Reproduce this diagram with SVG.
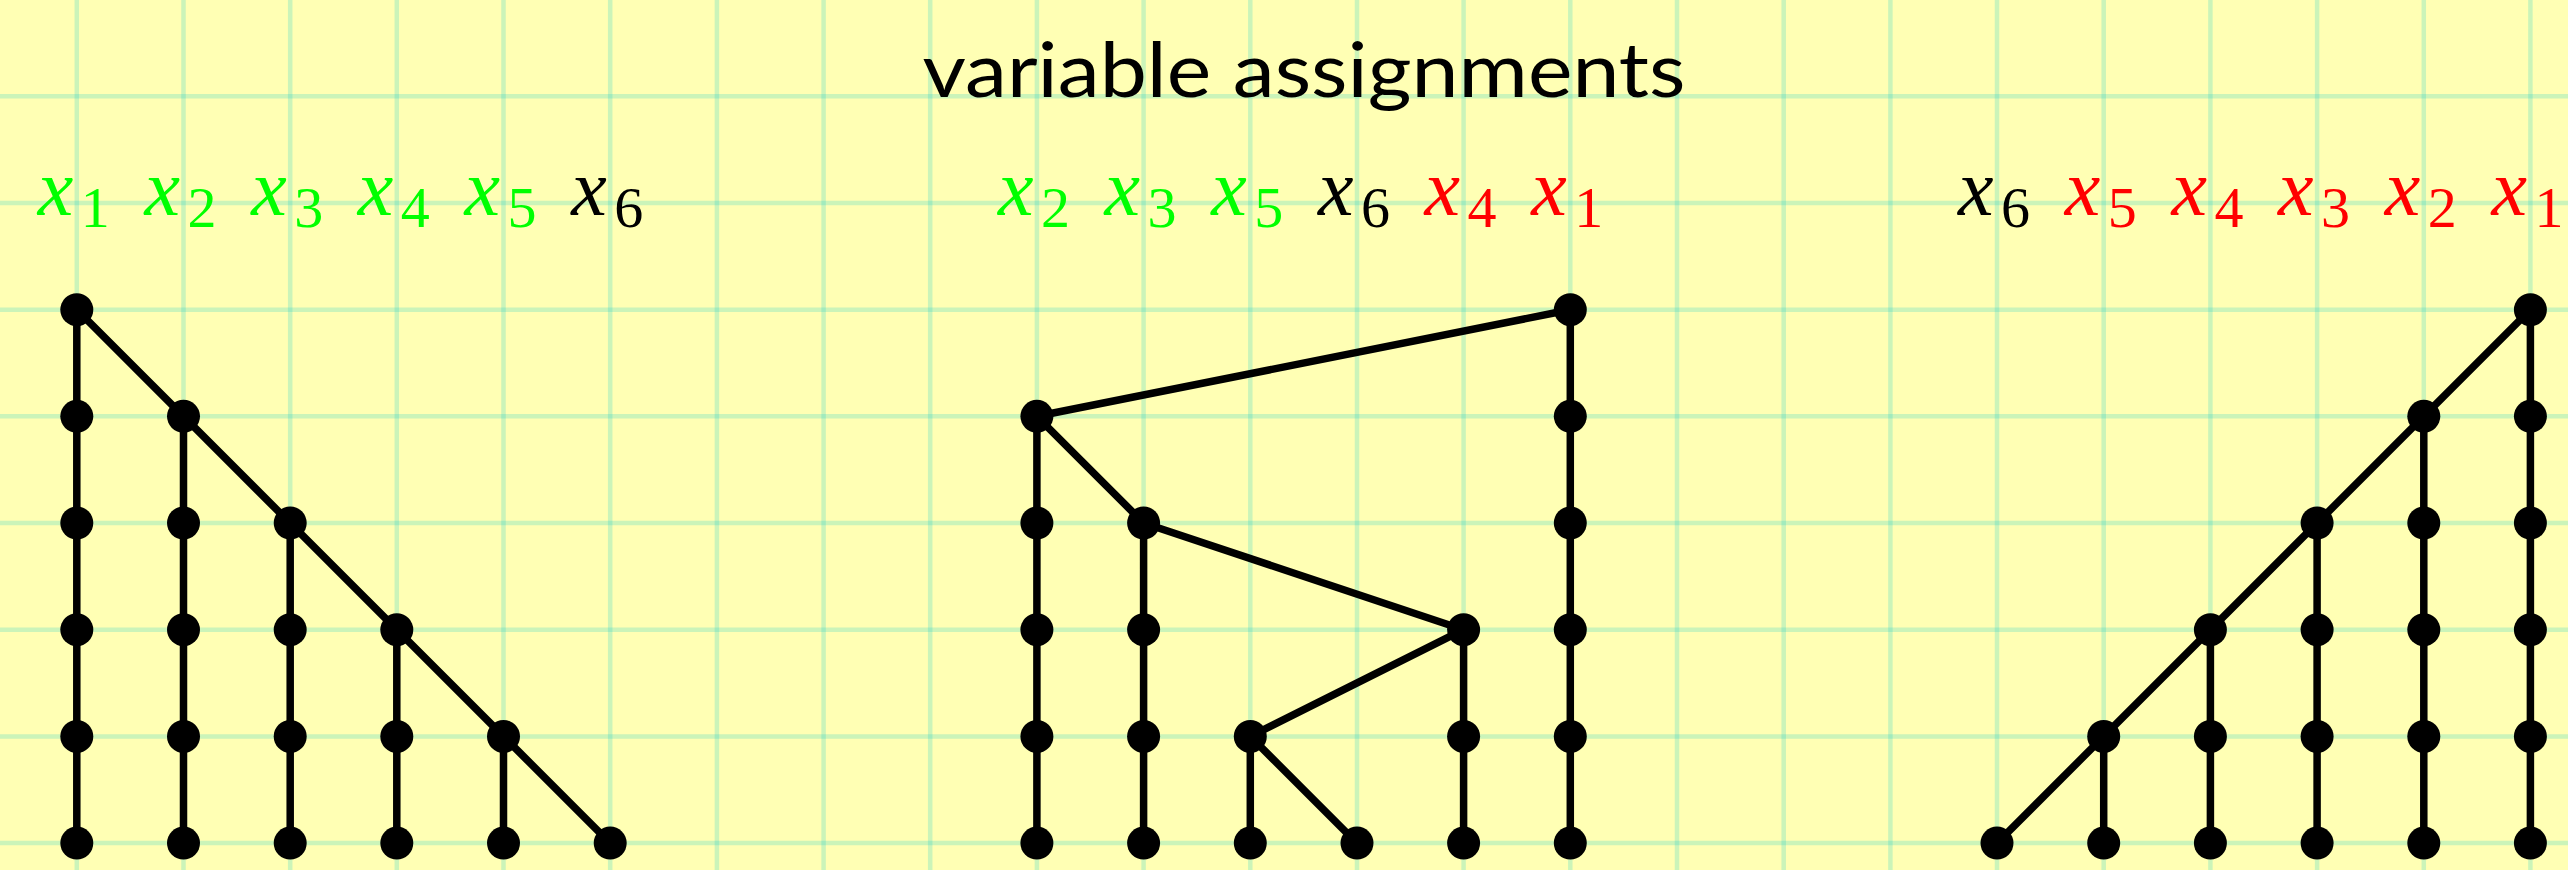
<svg xmlns="http://www.w3.org/2000/svg" width="2568" height="870" viewBox="0 0 2568 870">
<style>
.bg{fill:#ffffb4}
.grid{fill:none;stroke:rgb(20,205,205);stroke-opacity:0.22;stroke-width:4.5}
.edge{fill:none;stroke:#000;stroke-width:7.5;stroke-linecap:round;stroke-linejoin:round}
.dot{fill:#000}
.title{font-family:Lato,"Open Sans",sans-serif;font-size:75px;fill:#000}
.lbl{font-family:"Liberation Serif","Times New Roman",serif}
.v{font-style:italic;font-size:80px}
.s{font-size:58px}
.g{fill:#00ff00}
.r{fill:#ff0000}
.k{fill:#000}
</style>
<defs>
<circle id="dot" r="16.5" class="dot"/>
</defs>
<rect class="bg" x="0" y="0" width="2568" height="870"/>
<g id="grid">
<path class="grid" d="M0 96.3H2568M0 203H2568M0 309.7H2568M0 416.3H2568M0 523H2568M0 629.7H2568M0 736.4H2568M0 843.1H2568"/>
<path class="grid" d="M76.8 0V870M183.5 0V870M290.2 0V870M396.8 0V870M503.5 0V870M610.2 0V870M716.9 0V870M823.6 0V870M930.2 0V870M1036.9 0V870M1143.6 0V870M1250.3 0V870M1357 0V870M1463.6 0V870M1570.3 0V870M1677 0V870M1783.7 0V870M1890.4 0V870M1997 0V870M2103.7 0V870M2210.4 0V870M2317.1 0V870M2423.8 0V870M2530.4 0V870"/>
</g>
<text id="title" class="title" x="1304" y="97" text-anchor="middle" textLength="763" lengthAdjust="spacingAndGlyphs">variable assignments</text>
<g id="labels">
<text class="lbl g" x="37.8" y="215"><tspan class="v">x</tspan><tspan class="s" dx="7.5" dy="12">1</tspan></text>
<text class="lbl g" x="144.5" y="215"><tspan class="v">x</tspan><tspan class="s" dx="7.5" dy="12">2</tspan></text>
<text class="lbl g" x="251.2" y="215"><tspan class="v">x</tspan><tspan class="s" dx="7.5" dy="12">3</tspan></text>
<text class="lbl g" x="357.8" y="215"><tspan class="v">x</tspan><tspan class="s" dx="7.5" dy="12">4</tspan></text>
<text class="lbl g" x="464.5" y="215"><tspan class="v">x</tspan><tspan class="s" dx="7.5" dy="12">5</tspan></text>
<text class="lbl k" x="571.2" y="215"><tspan class="v">x</tspan><tspan class="s" dx="7.5" dy="12">6</tspan></text>
<text class="lbl g" x="997.9" y="215"><tspan class="v">x</tspan><tspan class="s" dx="7.5" dy="12">2</tspan></text>
<text class="lbl g" x="1104.6" y="215"><tspan class="v">x</tspan><tspan class="s" dx="7.5" dy="12">3</tspan></text>
<text class="lbl g" x="1211.3" y="215"><tspan class="v">x</tspan><tspan class="s" dx="7.5" dy="12">5</tspan></text>
<text class="lbl k" x="1318" y="215"><tspan class="v">x</tspan><tspan class="s" dx="7.5" dy="12">6</tspan></text>
<text class="lbl r" x="1424.6" y="215"><tspan class="v">x</tspan><tspan class="s" dx="7.5" dy="12">4</tspan></text>
<text class="lbl r" x="1531.3" y="215"><tspan class="v">x</tspan><tspan class="s" dx="7.5" dy="12">1</tspan></text>
<text class="lbl k" x="1958" y="215"><tspan class="v">x</tspan><tspan class="s" dx="7.5" dy="12">6</tspan></text>
<text class="lbl r" x="2064.7" y="215"><tspan class="v">x</tspan><tspan class="s" dx="7.5" dy="12">5</tspan></text>
<text class="lbl r" x="2171.4" y="215"><tspan class="v">x</tspan><tspan class="s" dx="7.5" dy="12">4</tspan></text>
<text class="lbl r" x="2278.1" y="215"><tspan class="v">x</tspan><tspan class="s" dx="7.5" dy="12">3</tspan></text>
<text class="lbl r" x="2384.8" y="215"><tspan class="v">x</tspan><tspan class="s" dx="7.5" dy="12">2</tspan></text>
<text class="lbl r" x="2491.4" y="215"><tspan class="v">x</tspan><tspan class="s" dx="7.5" dy="12">1</tspan></text>
</g>
<g id="connectors">
<path class="edge" d="M76.8 309.7V843.1M183.5 416.3V843.1M290.2 523V843.1M396.8 629.7V843.1M503.5 736.4V843.1M76.8 309.7L610.2 843.1"/>
<path class="edge" d="M1570.3 309.7V843.1M1036.9 416.3V843.1M1143.6 523V843.1M1463.6 629.7V843.1M1250.3 736.4V843.1M1570.3 309.7L1036.9 416.3L1143.6 523L1463.6 629.7L1250.3 736.4L1357 843.1"/>
<path class="edge" d="M2530.4 309.7V843.1M2423.8 416.3V843.1M2317.1 523V843.1M2210.4 629.7V843.1M2103.7 736.4V843.1M2530.4 309.7L1997 843.1"/>
</g>
<g id="tree1">
<g id="t1-x1-0"><use href="#dot" x="76.8" y="309.7"/></g>
<g id="t1-x1-1"><use href="#dot" x="76.8" y="416.3"/></g>
<g id="t1-x1-2"><use href="#dot" x="76.8" y="523"/></g>
<g id="t1-x1-3"><use href="#dot" x="76.8" y="629.7"/></g>
<g id="t1-x1-4"><use href="#dot" x="76.8" y="736.4"/></g>
<g id="t1-x1-5"><use href="#dot" x="76.8" y="843.1"/></g>
<g id="t1-x2-1"><use href="#dot" x="183.5" y="416.3"/></g>
<g id="t1-x2-2"><use href="#dot" x="183.5" y="523"/></g>
<g id="t1-x2-3"><use href="#dot" x="183.5" y="629.7"/></g>
<g id="t1-x2-4"><use href="#dot" x="183.5" y="736.4"/></g>
<g id="t1-x2-5"><use href="#dot" x="183.5" y="843.1"/></g>
<g id="t1-x3-2"><use href="#dot" x="290.2" y="523"/></g>
<g id="t1-x3-3"><use href="#dot" x="290.2" y="629.7"/></g>
<g id="t1-x3-4"><use href="#dot" x="290.2" y="736.4"/></g>
<g id="t1-x3-5"><use href="#dot" x="290.2" y="843.1"/></g>
<g id="t1-x4-3"><use href="#dot" x="396.8" y="629.7"/></g>
<g id="t1-x4-4"><use href="#dot" x="396.8" y="736.4"/></g>
<g id="t1-x4-5"><use href="#dot" x="396.8" y="843.1"/></g>
<g id="t1-x5-4"><use href="#dot" x="503.5" y="736.4"/></g>
<g id="t1-x5-5"><use href="#dot" x="503.5" y="843.1"/></g>
<g id="t1-x6-5"><use href="#dot" x="610.2" y="843.1"/></g>
</g>
<g id="tree2">
<g id="t2-x1-0"><use href="#dot" x="1570.3" y="309.7"/></g>
<g id="t2-x1-1"><use href="#dot" x="1570.3" y="416.3"/></g>
<g id="t2-x1-2"><use href="#dot" x="1570.3" y="523"/></g>
<g id="t2-x1-3"><use href="#dot" x="1570.3" y="629.7"/></g>
<g id="t2-x1-4"><use href="#dot" x="1570.3" y="736.4"/></g>
<g id="t2-x1-5"><use href="#dot" x="1570.3" y="843.1"/></g>
<g id="t2-x2-1"><use href="#dot" x="1036.9" y="416.3"/></g>
<g id="t2-x2-2"><use href="#dot" x="1036.9" y="523"/></g>
<g id="t2-x2-3"><use href="#dot" x="1036.9" y="629.7"/></g>
<g id="t2-x2-4"><use href="#dot" x="1036.9" y="736.4"/></g>
<g id="t2-x2-5"><use href="#dot" x="1036.9" y="843.1"/></g>
<g id="t2-x3-2"><use href="#dot" x="1143.6" y="523"/></g>
<g id="t2-x3-3"><use href="#dot" x="1143.6" y="629.7"/></g>
<g id="t2-x3-4"><use href="#dot" x="1143.6" y="736.4"/></g>
<g id="t2-x3-5"><use href="#dot" x="1143.6" y="843.1"/></g>
<g id="t2-x4-3"><use href="#dot" x="1463.6" y="629.7"/></g>
<g id="t2-x4-4"><use href="#dot" x="1463.6" y="736.4"/></g>
<g id="t2-x4-5"><use href="#dot" x="1463.6" y="843.1"/></g>
<g id="t2-x5-4"><use href="#dot" x="1250.3" y="736.4"/></g>
<g id="t2-x5-5"><use href="#dot" x="1250.3" y="843.1"/></g>
<g id="t2-x6-5"><use href="#dot" x="1357" y="843.1"/></g>
</g>
<g id="tree3">
<g id="t3-x1-0"><use href="#dot" x="2530.4" y="309.7"/></g>
<g id="t3-x1-1"><use href="#dot" x="2530.4" y="416.3"/></g>
<g id="t3-x1-2"><use href="#dot" x="2530.4" y="523"/></g>
<g id="t3-x1-3"><use href="#dot" x="2530.4" y="629.7"/></g>
<g id="t3-x1-4"><use href="#dot" x="2530.4" y="736.4"/></g>
<g id="t3-x1-5"><use href="#dot" x="2530.4" y="843.1"/></g>
<g id="t3-x2-1"><use href="#dot" x="2423.8" y="416.3"/></g>
<g id="t3-x2-2"><use href="#dot" x="2423.8" y="523"/></g>
<g id="t3-x2-3"><use href="#dot" x="2423.8" y="629.7"/></g>
<g id="t3-x2-4"><use href="#dot" x="2423.8" y="736.4"/></g>
<g id="t3-x2-5"><use href="#dot" x="2423.8" y="843.1"/></g>
<g id="t3-x3-2"><use href="#dot" x="2317.1" y="523"/></g>
<g id="t3-x3-3"><use href="#dot" x="2317.1" y="629.7"/></g>
<g id="t3-x3-4"><use href="#dot" x="2317.1" y="736.4"/></g>
<g id="t3-x3-5"><use href="#dot" x="2317.1" y="843.1"/></g>
<g id="t3-x4-3"><use href="#dot" x="2210.4" y="629.7"/></g>
<g id="t3-x4-4"><use href="#dot" x="2210.4" y="736.4"/></g>
<g id="t3-x4-5"><use href="#dot" x="2210.4" y="843.1"/></g>
<g id="t3-x5-4"><use href="#dot" x="2103.7" y="736.4"/></g>
<g id="t3-x5-5"><use href="#dot" x="2103.7" y="843.1"/></g>
<g id="t3-x6-5"><use href="#dot" x="1997" y="843.1"/></g>
</g>
</svg>
